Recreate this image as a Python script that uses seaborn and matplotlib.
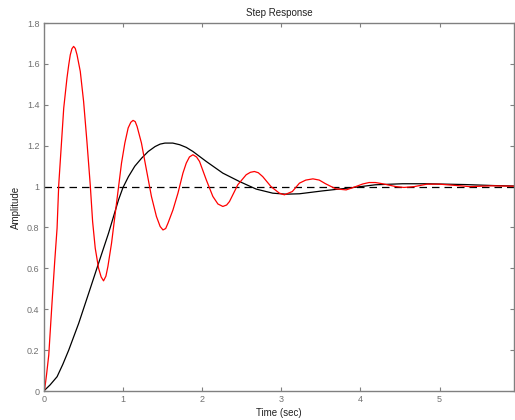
import matplotlib
matplotlib.use('Agg')
import matplotlib.pyplot as plt
import pandas as pd
import seaborn as sns

sns.set_theme(style="ticks")
plt.rcParams['font.family'] = ['Liberation Sans', 'DejaVu Sans']

# Readings (time in sec, amplitude)
red_t = [0.0, 0.01, 0.035, 0.063, 0.105, 0.138, 0.168, 0.189, 0.222, 0.252, 0.293, 0.315,
         0.335, 0.356, 0.377, 0.398, 0.42, 0.461, 0.503, 0.545, 0.587, 0.617, 0.65, 0.692,
         0.725, 0.755, 0.785, 0.81, 0.856, 0.898, 0.94, 0.982, 1.024, 1.066, 1.10, 1.128,
         1.155, 1.179, 1.234, 1.297, 1.36, 1.423, 1.47, 1.506, 1.54, 1.569, 1.632, 1.695,
         1.758, 1.80, 1.84, 1.884, 1.93, 1.968, 2.053, 2.136, 2.20, 2.262, 2.31, 2.346,
         2.451, 2.557, 2.61, 2.661, 2.71, 2.766, 2.871, 2.976, 3.04, 3.14, 3.23, 3.31, 3.40,
         3.48, 3.56, 3.69, 3.82, 3.94, 4.03, 4.11, 4.19, 4.28, 4.45, 4.55, 4.68, 4.84, 5.0,
         5.26, 5.38, 5.66, 5.94]
red_y = [0.0, 0.005, 0.08, 0.176, 0.437, 0.633, 0.797, 1.009, 1.205, 1.384, 1.531, 1.595,
         1.645, 1.675, 1.686, 1.676, 1.645, 1.564, 1.417, 1.221, 1.009, 0.829, 0.699, 0.601,
         0.558, 0.539, 0.562, 0.609, 0.723, 0.854, 0.984, 1.115, 1.213, 1.287, 1.315, 1.324,
         1.318, 1.294, 1.213, 1.082, 0.952, 0.854, 0.805, 0.788, 0.795, 0.821, 0.886, 0.968,
         1.066, 1.115, 1.145, 1.156, 1.145, 1.123, 1.033, 0.952, 0.915, 0.903, 0.910, 0.927,
         1.009, 1.058, 1.070, 1.074, 1.068, 1.049, 1.0, 0.968, 0.96, 0.976, 1.017, 1.032,
         1.038, 1.032, 1.014, 0.989, 0.984, 1.0, 1.013, 1.020, 1.020, 1.014, 1.0, 0.996, 1.0,
         1.012, 1.012, 1.004, 1.0, 1.004, 1.002]

black_t = [0.0, 0.08, 0.168, 0.24, 0.315, 0.441, 0.567, 0.692, 0.818, 0.944, 1.0, 1.07,
           1.15, 1.238, 1.32, 1.406, 1.47, 1.531, 1.63, 1.717, 1.80, 1.884, 2.053, 2.262,
           2.472, 2.683, 2.892, 3.06, 3.23, 3.52, 3.94, 4.19, 4.53, 4.84, 5.33, 5.7, 5.94]
black_y = [0.0, 0.03, 0.07, 0.13, 0.2, 0.331, 0.478, 0.625, 0.772, 0.935, 0.995, 1.049,
           1.100, 1.140, 1.172, 1.196, 1.208, 1.213, 1.213, 1.205, 1.192, 1.172, 1.123, 1.066,
           1.025, 0.988, 0.968, 0.963, 0.965, 0.979, 0.997, 1.009, 1.014, 1.014, 1.010, 1.005,
           1.003]

steady_state = 1.0
x_ticks = [0, 1, 2, 3, 4, 5]
y_ticks = [0, 0.2, 0.4, 0.6, 0.8, 1.0, 1.2, 1.4, 1.6, 1.8]
y_tick_labels = ['0', '0.2', '0.4', '0.6', '0.8', '1', '1.2', '1.4', '1.6', '1.8']

red_df = pd.DataFrame({'t': red_t, 'y': red_y})
black_df = pd.DataFrame({'t': black_t, 'y': black_y})

fig = plt.figure(figsize=(5.15, 4.2), dpi=100)
ax = fig.add_axes([0.085, 0.069, 0.913, 0.876])

ax.axhline(steady_state, color='black', linestyle=(0, (6, 4)), linewidth=0.9)
sns.lineplot(data=black_df, x='t', y='y', color='black', linewidth=0.9, ax=ax,
             sort=False, solid_joinstyle='round')
sns.lineplot(data=red_df, x='t', y='y', color='red', linewidth=0.9, ax=ax,
             sort=False, solid_joinstyle='round')

ax.set_xlim(0, 5.94)
ax.set_ylim(0, 1.8)
ax.set_xticks(x_ticks)
ax.set_xticklabels([str(v) for v in x_ticks])
ax.set_yticks(y_ticks)
ax.set_yticklabels(y_tick_labels)

axis_grey = '#808080'
for side in ['top', 'bottom', 'left', 'right']:
    ax.spines[side].set_visible(True)
    ax.spines[side].set_color(axis_grey)
    ax.spines[side].set_linewidth(1.0)
ax.tick_params(direction='in', length=3, width=0.8, color=axis_grey,
               labelcolor='#707070', labelsize=6.5, top=True, right=True, pad=3)

ax.set_title('Step Response', fontsize=7, color='#222222', pad=5)
ax.set_xlabel('Time (sec)', fontsize=7, color='#222222', labelpad=3)
ax.set_ylabel('Amplitude', fontsize=7, color='#222222', labelpad=4)

fig.savefig('out.png', dpi=100)
plt.close(fig)
